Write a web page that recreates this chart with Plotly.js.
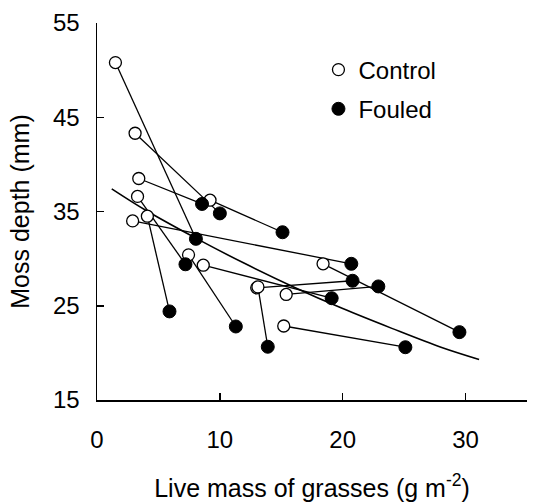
<!DOCTYPE html>
<html>
<head>
<meta charset="utf-8">
<script src="https://cdn.plot.ly/plotly-3.0.1.min.js"></script>
<style>html,body{margin:0;padding:0;background:#fff}#chart{width:539px;height:502px}</style>
</head>
<body>
<div id="chart"></div>
<script>
// Paired plots: control (open) vs fouled (filled)
var controlX = [1.5, 3.1, 3.4, 3.3, 2.9, 4.1, 7.45, 8.65, 9.2, 13.0, 13.1, 15.4, 15.2, 18.4];
var controlY = [50.8, 43.3, 38.5, 36.6, 34.0, 34.5, 30.4, 29.3, 36.2, 26.9, 27.0, 26.2, 22.85, 29.45];
var fouledX  = [8.05, 10.0, 8.55, 7.2, 20.7, 5.9, 11.3, 19.1, 15.1, 20.8, 13.9, 22.9, 25.1, 29.5];
var fouledY  = [32.1, 34.8, 35.8, 29.4, 29.45, 24.4, 22.8, 25.8, 32.8, 27.65, 20.65, 27.05, 20.6, 22.2];

// Overall fitted curve
var curveX = [1.2, 4, 8, 12, 16, 20, 24, 28, 31.1];
var curveY = [37.4, 35.1, 32.2, 29.5, 27.0, 24.7, 22.6, 20.6, 19.3];

var legendNames = ['Control', 'Fouled'];
var xTitle = 'Live mass of grasses (g m<sup>-2</sup>)';
var yTitle = 'Moss depth (mm)';

var pairX = [], pairY = [];
for (var i = 0; i < controlX.length; i++) {
  pairX.push(controlX[i], fouledX[i], null);
  pairY.push(controlY[i], fouledY[i], null);
}

var FONT = 'Arial, "Liberation Sans", sans-serif';
var FS = 24;

var traces = [
  {x: pairX, y: pairY, mode: 'lines', line: {color: '#000', width: 1.3}, showlegend: false, hoverinfo: 'skip'},
  {x: curveX, y: curveY, mode: 'lines', line: {color: '#000', width: 1.6, shape: 'spline'}, showlegend: false, hoverinfo: 'skip'},
  {x: controlX, y: controlY, mode: 'markers', name: legendNames[0], legendgroup: 'c',
   marker: {symbol: 'circle', size: 12, color: '#fff', line: {color: '#000', width: 1.3}}},
  {x: fouledX, y: fouledY, mode: 'markers', name: legendNames[1], legendgroup: 'f',
   marker: {symbol: 'circle', size: 13, color: '#000', line: {color: '#000', width: 1}}}
];

var layout = {
  width: 539, height: 502,
  margin: {l: 97, r: 12, t: 23, b: 102, pad: 0},
  paper_bgcolor: '#fff', plot_bgcolor: '#fff',
  font: {family: FONT, size: FS, color: '#000'},
  showlegend: true,
  legend: {x: 0.515, y: 0.935, xanchor: 'left', yanchor: 'top', bgcolor: 'rgba(0,0,0,0)',
           font: {family: FONT, size: FS, color: '#000'}, itemwidth: 30, tracegroupgap: 5},
  xaxis: {
    range: [0, 35], tickvals: [0, 10, 20, 30], ticktext: ['0', '10', '20', '30'],
    showgrid: false, zeroline: false, showline: true, linecolor: '#000', linewidth: 1.5,
    ticks: 'inside', ticklen: 7, tickwidth: 1.5, tickcolor: '#000',
    ticklabelstandoff: 18,
    tickfont: {family: FONT, size: FS, color: '#000'},
    title: {text: xTitle, font: {family: FONT, size: 25, color: '#000'}, standoff: 27},
    automargin: false
  },
  yaxis: {
    range: [15, 55], tickvals: [15, 25, 35, 45, 55], ticktext: ['15', '25', '35', '45', '55'],
    showgrid: false, zeroline: false, showline: true, linecolor: '#000', linewidth: 1.5,
    ticks: 'inside', ticklen: 7, tickwidth: 1.5, tickcolor: '#000',
    ticklabelstandoff: 11,
    tickfont: {family: FONT, size: FS, color: '#000'},
    title: {text: yTitle, font: {family: FONT, size: 25, color: '#000'}, standoff: 16},
    automargin: false
  }
};

Plotly.newPlot('chart', traces, layout, {displayModeBar: false, staticPlot: true});
</script>
</body>
</html>
